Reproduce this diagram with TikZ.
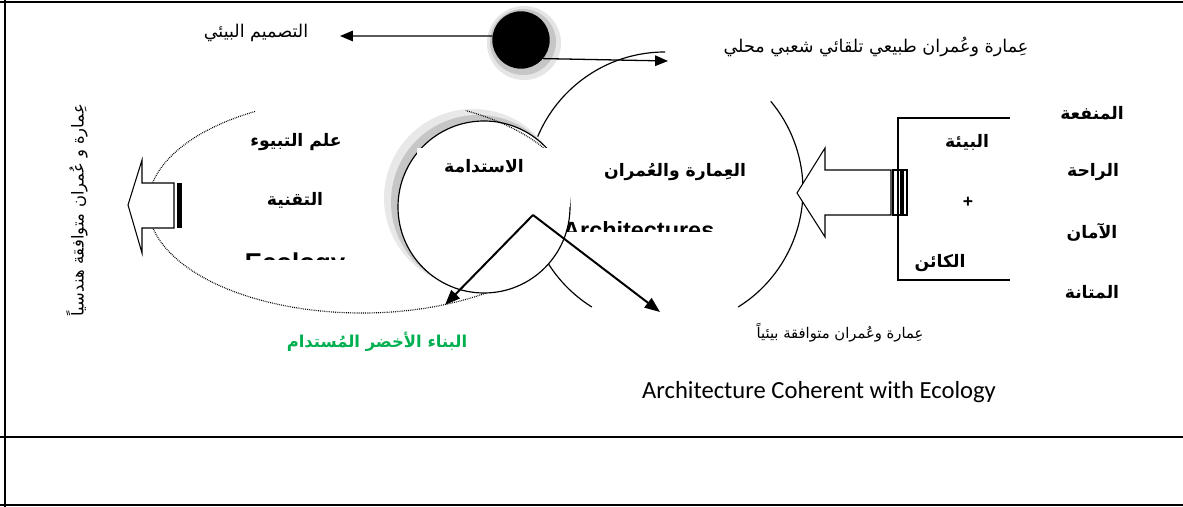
\documentclass[tikz,border=0pt]{standalone}
\usepackage{fontspec}
\setmainfont{Liberation Sans}
\newfontfamily\arabicfont[Script=Arabic]{DejaVu Sans}
\newfontfamily\calibrifont{Carlito}
\TeXXeTstate=1
\usetikzlibrary{arrows.meta}
\definecolor{greenbuild}{RGB}{0,176,80}
\newcommand{\artext}[1]{\beginR #1\endR}
\tikzstyle{arlabel} = [font=\fontsize{15}{17}\selectfont\arabicfont, inner sep=0pt]
\tikzstyle{artitle} = [font=\fontsize{14.7}{17}\selectfont\arabicfont\bfseries, inner sep=0pt]
\tikzstyle{cliptext} = [font=\fontsize{20}{22}\selectfont\bfseries, inner sep=0pt, anchor=base]
\tikzstyle{arrow} = [line width=1.1pt, -{Triangle[length=11pt,width=9pt]}]
\tikzstyle{thickarrow} = [line width=1.7pt, -{Triangle[length=13pt,width=10pt]}]
\tikzstyle{blockarrow} = [draw=black, fill=white, line width=0.9pt, line join=miter]
\tikzstyle{ring} = [line width=1pt]
\tikzstyle{dots} = [line width=1pt, dash pattern=on 0.7pt off 0.9pt]

\begin{document}
\begin{tikzpicture}[x=0.03cm, y=0.03cm]
  \useasboundingbox (0,0) rectangle (1183,507);
  % frame
  \draw [line width=2.2pt] (0,505) -- (1183,505);
  \draw [line width=1.5pt] (5,507) -- (5,0);
  \draw [line width=2.2pt] (0,70) -- (1183,70);
  \draw [line width=1.5pt] (0,2) -- (1183,2);

  % ecology ellipse (lower part) and architecture circle
  \draw [dots] (362,302) ++(120:214 and 108) arc[start angle=120, end angle=330, x radius=214, y radius=108];
  \draw [ring] (665,317) ++(90:138) arc[start angle=90, end angle=238, radius=138];
  \draw [ring] (665,317) ++(-58:138) arc[start angle=-58, end angle=40, radius=138];

  % sustainability circle with its shadow
  \fill [gray!18] (473,309) circle (89);
  \fill [gray!45] (478,305) circle (87);
  \draw [ring, fill=white] (484,300) circle (86);
  \draw [dots] (362,302) ++(29:214 and 108) arc[start angle=29, end angle=61, x radius=214, y radius=108];
  \fill [white] (417,300) rectangle (570,359);

  % hub
  \fill [gray!20] (524,464) circle (37);
  \fill [gray!45] (523,465) circle (33);
  \node (hub) [circle, fill=black, inner sep=0pt, minimum size=49pt] at (521,467) {};
  \coordinate (designtip) at (340,471);
  \coordinate (localtip) at (668,446);
  \draw [arrow] (hub.172) -- (designtip);
  \draw [arrow] (hub.-40) -- (localtip);
  \node (design) [arlabel] at (256,474) {\artext{التصميم البيئي}};
  \node (local) [arlabel] at (876,460) {\artext{عِمارة وعُمران طبيعي تلقائي شعبي محلي}};

  % titles
  \node (ecotitle) [artitle] at (296,365) {\artext{علم التبيوء}};
  \node (techno) [artitle] at (295,307) {\artext{التقنية}};
  \node (sust) [artitle] at (484,341) {\artext{الاستدامة}};
  \node (archtitle) [artitle] at (675,335) {\artext{العِمارة والعُمران}};
  \begin{scope}
    \clip (540,275) rectangle (760,300);
    \node (archlatin) [cliptext, anchor=base west] at (563,268) {Architectures};
  \end{scope}
  \begin{scope}
    \clip (220,247) rectangle (380,270);
    \node (ecolatin) [cliptext, font=\fontsize{22}{24}\selectfont\bfseries] at (295,235.5) {Ecology};
  \end{scope}

  % outputs of sustainability
  \coordinate (sustapex) at (533,292);
  \coordinate (greentip) at (445,202);
  \coordinate (envtip) at (660,195);
  \draw [thickarrow] (sustapex) -- (greentip);
  \draw [thickarrow] (sustapex) -- (envtip);
  \node (green) [artitle, font=\fontsize{14}{16}\selectfont\arabicfont\bfseries, text=greenbuild] at (377,165) {\artext{البناء الأخضر المُستدام}};
  \node (env) [arlabel, font=\fontsize{12.6}{15}\selectfont\arabicfont] at (840,174) {\artext{عِمارة وعُمران متوافقة بيئياً}};
  \node (english) [font=\fontsize{21}{23}\selectfont\calibrifont, inner sep=0pt] at (819,115) {Architecture Coherent with Ecology};

  % block arrows
  \draw [blockarrow] (128,302) -- (142,347) -- (142,324) -- (174,324) -- (174,279) -- (142,279) -- (142,254) -- cycle;
  \fill (177,279) rectangle (182,324);
  \node (geom) [arlabel, font=\fontsize{14}{16}\selectfont\arabicfont, rotate=90] at (77,297) {\artext{عِمارة و عُمران متوافقة هندسياً}};
  \draw [blockarrow] (797,314) -- (825,359) -- (825,337) -- (891,337) -- (891,292) -- (825,292) -- (825,270) -- cycle;
  \draw [ring, fill=white] (893,292) rectangle (901,337);
  \draw [ring, fill=white] (903,292) rectangle (907,337);

  % environment + being bracket
  \draw [ring] (1010,389) -- (898,389) -- (898,227) -- (1010,227);
  \node (milieu) [artitle] at (967,365) {\artext{البيئة}};
  \node (plus) [font=\fontsize{15}{17}\selectfont\bfseries, inner sep=0pt] at (968,305) {+};
  \node (being) [artitle] at (940,244) {\artext{الكائن}};

  % vitruvian values
  \node (utility) [artitle] at (1092,394) {\artext{المنفعة}};
  \node (comfort) [artitle] at (1093,335) {\artext{الراحة}};
  \node (safety) [artitle] at (1092,275) {\artext{الآمان}};
  \node (firmness) [artitle] at (1092,215) {\artext{المتانة}};
\end{tikzpicture}
\end{document}
